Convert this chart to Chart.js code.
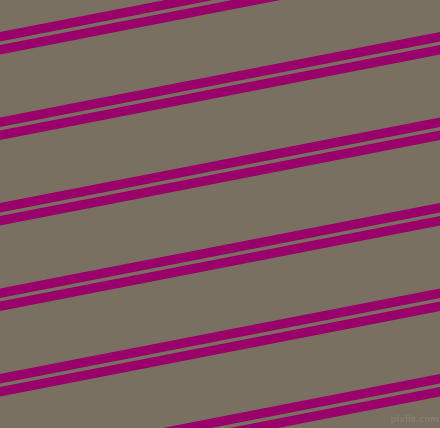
<!DOCTYPE html>
<html>
<head>
<meta charset="utf-8">
<script src="https://cdn.jsdelivr.net/npm/chart.js@4/dist/chart.umd.min.js"></script>
<style>
  html, body { margin: 0; padding: 0; background: #7a7062; overflow: hidden; }
  #wrap { position: relative; width: 440px; height: 428px; }
</style>
</head>
<body>
<div id="wrap">
  <canvas id="c" width="440" height="428"></canvas>
</div>
<script>
// x positions where each stripe is read (left and right edges of the picture)
const xEnds = [0, 440];
// centre height of the upper stripe of each pair, at the left and right edge
const upperLeft  = [36.8, 122.3, 207.8, 293.3, 378.8, 464.3];
const upperRight = [-48.7, 36.8, 122.3, 207.8, 293.3, 378.8];
// centre height of the lower stripe of each pair, at the left and right edge
const lowerLeft  = [49.8, 135.3, 220.8, 306.3, 391.8, 477.3];
const lowerRight = [-35.7, 49.8, 135.3, 220.8, 306.3, 391.8];
const watermark = 'pixlis.com';

const stripeColor = '#99006a';
const datasets = [];
function addStripes(lefts, rights) {
  lefts.forEach((yl, i) => {
    datasets.push({
      data: [{x: xEnds[0], y: yl}, {x: xEnds[1], y: rights[i]}],
      borderColor: stripeColor,
      borderWidth: 9.2,
      borderCapStyle: 'square',
      pointRadius: 0,
      tension: 0,
      fill: false
    });
  });
}
addStripes(upperLeft, upperRight);
addStripes(lowerLeft, lowerRight);

const markPlugin = {
  id: 'mark',
  afterDraw(chart) {
    const ctx = chart.ctx;
    ctx.save();
    ctx.font = 'bold 9.5px "Liberation Sans Narrow", "DejaVu Sans Condensed", sans-serif';
    ctx.fillStyle = '#867d71';
    ctx.textAlign = 'right';
    ctx.textBaseline = 'alphabetic';
    ctx.fillText(watermark, 439, 422);
    ctx.restore();
  }
};

new Chart(document.getElementById('c'), {
  type: 'line',
  data: { datasets },
  plugins: [markPlugin],
  options: {
    responsive: false,
    animation: false,
    events: [],
    layout: { padding: 0 },
    plugins: { legend: { display: false }, tooltip: { enabled: false } },
    scales: {
      x: { type: 'linear', min: 0, max: 440, display: false },
      y: { type: 'linear', min: 0, max: 428, reverse: true, display: false }
    }
  }
});
</script>
</body>
</html>
